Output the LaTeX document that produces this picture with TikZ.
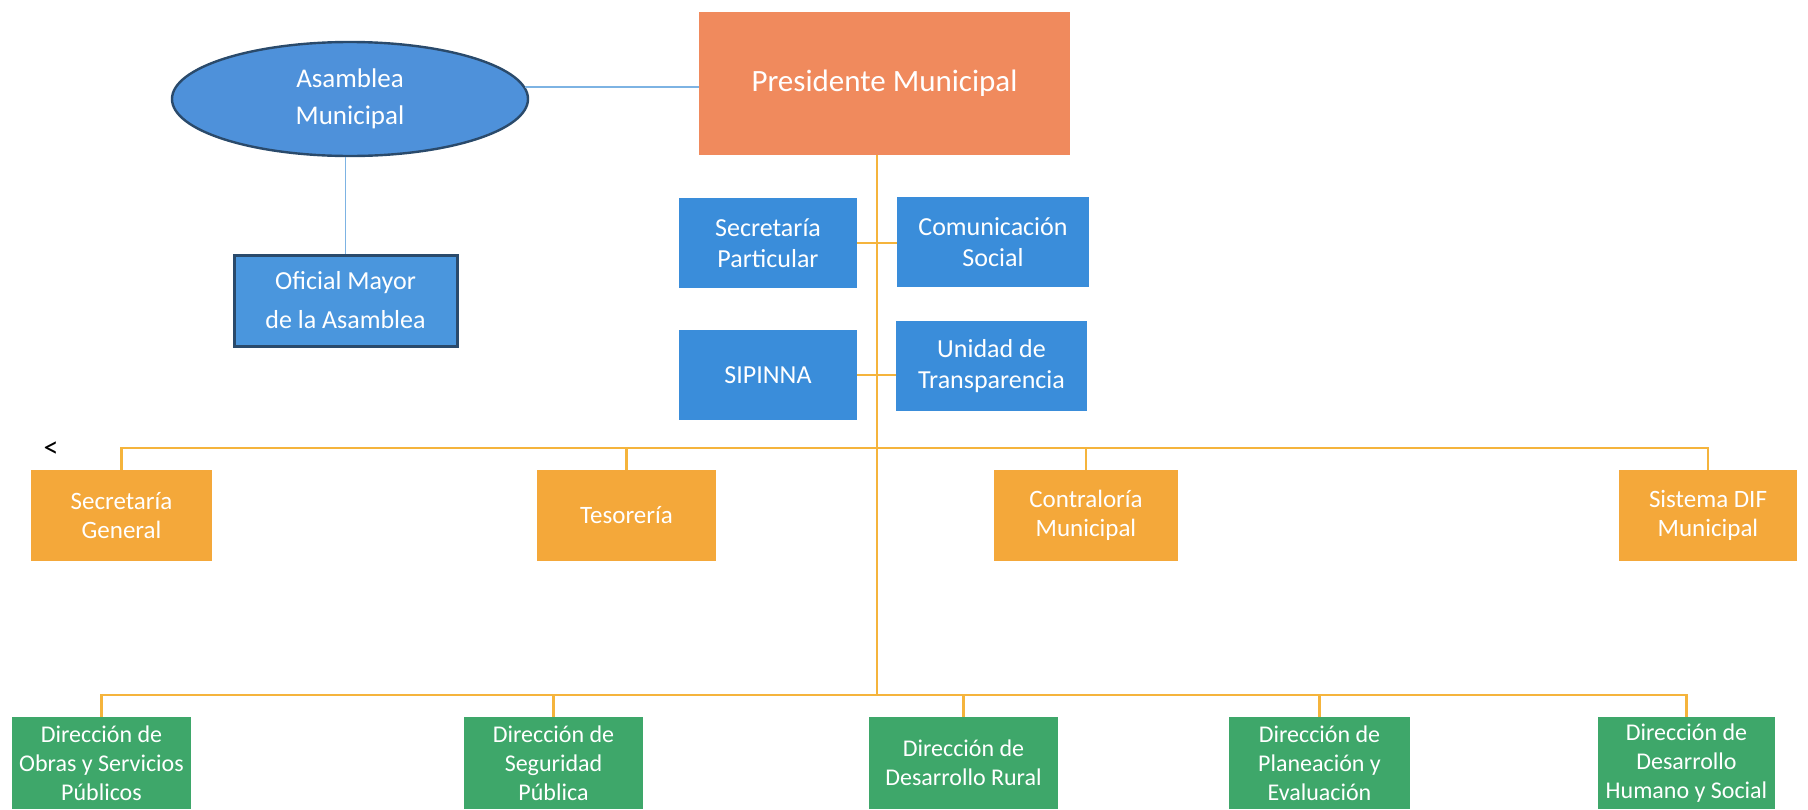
\documentclass[tikz,border=0pt]{standalone}
\usepackage{fontspec}
\setmainfont{Carlito}
\usetikzlibrary{shapes.geometric}
\definecolor{presfill}{HTML}{F08A5D}
\definecolor{bluefill}{HTML}{3A8DDA}
\definecolor{ellfill}{HTML}{4E91DA}
\definecolor{navy}{HTML}{2A4A6B}
\definecolor{amber}{HTML}{F4A83A}
\definecolor{greenfill}{HTML}{3EA76A}
\definecolor{orangeline}{HTML}{F5B43C}
\definecolor{blueline}{HTML}{7DB3E3}
\begin{document}
\begin{tikzpicture}[x=1pt,y=-1pt,
  box/.style={rectangle, inner sep=0pt, align=center, text=white, minimum height=90pt, font=\fontsize{24}{29}\selectfont},
  bluebox/.style={box, fill=bluefill, font=\fontsize{26}{31}\selectfont},
  orangebox/.style={box, fill=amber, minimum height=91pt, font=\fontsize{25}{29}\selectfont},
  greenbox/.style={box, fill=greenfill},
  oline/.style={draw=orangeline, line width=2.6pt},
  bline/.style={draw=blueline, line width=1.8pt}]
\useasboundingbox[fill=white] (0,0) rectangle (1808,809);

% top level
\node[ellipse, fill=ellfill, draw=navy, line width=2.4pt, minimum width=356pt, minimum height=114pt, inner sep=0pt, align=center, text=white, font=\fontsize{27}{37}\selectfont] (ell) at (350,99) {Asamblea\\Municipal};
\node[box, fill=presfill, minimum width=371pt, minimum height=143pt, font=\fontsize{31}{36}\selectfont] (pres) at (884.5,83.5) {Presidente Municipal};
\node[box, fill=bluefill!92!white, draw=navy, line width=3pt, minimum width=223pt, minimum height=91pt, font=\fontsize{26}{39}\selectfont] (ofm) at (345.5,300.5) {Oficial Mayor\\de la Asamblea};

% staff
\node[bluebox, minimum width=178pt] (sp) at (768,243) {Secretaría\\Particular};
\node[bluebox, minimum width=192pt] (cs) at (993,242) {Comunicación\\Social};
\node[bluebox, minimum width=178pt] (sip) at (768,375) {SIPINNA};
\node[bluebox, minimum width=191pt] (ut) at (991.5,366) {Unidad de\\Transparencia};

% orange row
\node[orangebox, minimum width=181pt] (sg) at (121.5,515.5) {Secretaría\\General};
\node[orangebox, minimum width=179pt] (tes) at (626.5,515.5) {Tesorería};
\node[orangebox, minimum width=184pt] (con) at (1086,515.5) {Contraloría\\Municipal};
\node[orangebox, minimum width=178pt] (dif) at (1708,515.5) {Sistema DIF\\Municipal};

% green row
\node[greenbox, minimum width=179pt, minimum height=92pt] (g1) at (101.5,763) {Dirección de\\Obras y Servicios\\Públicos};
\node[greenbox, minimum width=179pt, minimum height=92pt] (g2) at (553.5,763) {Dirección de\\Seguridad\\Pública};
\node[greenbox, minimum width=189pt, minimum height=92pt] (g3) at (963.5,763) {Dirección de\\Desarrollo Rural};
\node[greenbox, minimum width=181pt, minimum height=92pt] (g4) at (1319.5,763) {Dirección de\\Planeación y\\Evaluación};
\node[greenbox, minimum width=177pt, minimum height=92pt] (g5) at (1686.5,763) {Dirección de\\Desarrollo\\Humano y Social};

\node[font=\fontsize{30}{30}\selectfont] (lt) at (51,450) {<};

% coordinates
\coordinate (trunktop) at (877,155);
\coordinate (obus) at (877,448);
\coordinate (gbus) at (877,695);

% connectors
\draw[bline] (ell.4) -- (ell.4 -| pres.west);
\draw[bline] (ell.south -| ofm.north) -- (ofm.north);

\draw[oline] (trunktop) -- (gbus);
\draw[oline] (sp.east) -- (sp.east -| cs.west);
\draw[oline] (sip.east) -- (sip.east -| ut.west);

\draw[oline] (sg.north) -- (sg.north |- obus) -- (dif.north |- obus) -- (dif.north);
\draw[oline] (tes.north |- obus) -- (tes.north);
\draw[oline] (con.north |- obus) -- (con.north);

\draw[oline] (g1.north) -- (g1.north |- gbus) -- (g5.north |- gbus) -- (g5.north);
\draw[oline] (g2.north |- gbus) -- (g2.north);
\draw[oline] (g3.north |- gbus) -- (g3.north);
\draw[oline] (g4.north |- gbus) -- (g4.north);
\end{tikzpicture}
\end{document}
